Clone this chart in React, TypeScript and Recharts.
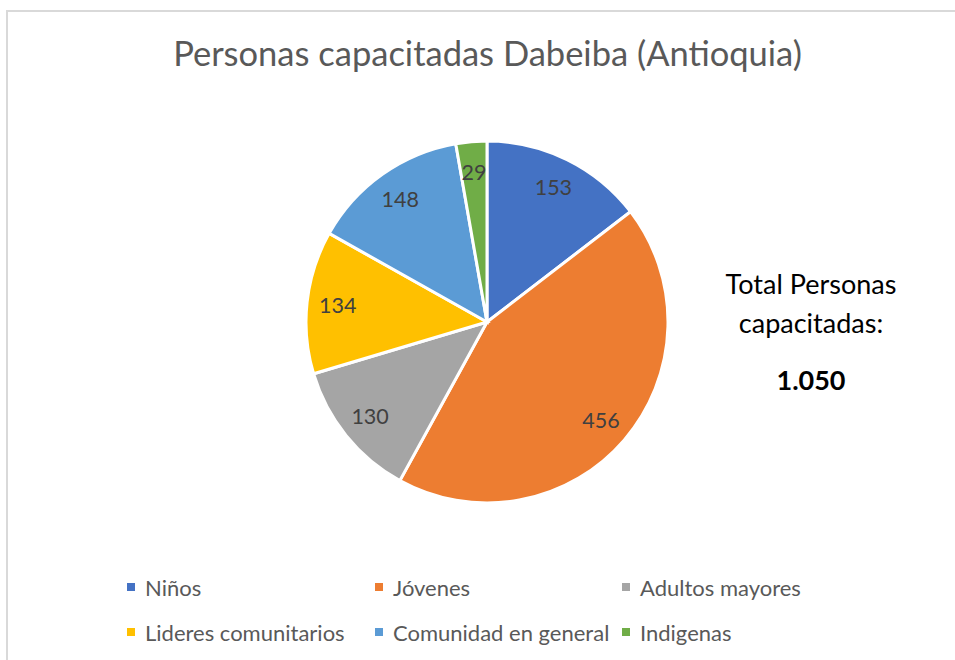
import { PieChart, Pie, Cell, Legend } from 'recharts'

const categories = ['Niños', 'Jóvenes', 'Adultos mayores', 'Lideres comunitarios', 'Comunidad en general', 'Indigenas']
const values = [153, 456, 130, 134, 148, 29]
const colors = ['#4472C4', '#ED7D31', '#A5A5A5', '#FFC000', '#5B9BD5', '#70AD47']
const totalLabel = '1.050'

const data = categories.map((name, i) => ({ name, value: values[i] }))

const FONT = 'Lato, "Open Sans", sans-serif'
const RAD = Math.PI / 180

const renderLabel = (props: any) => {
    const { cx, cy, midAngle, outerRadius, value } = props
    const r = outerRadius * 0.83
    const x = cx + r * Math.cos(-midAngle * RAD)
    const y = cy + r * Math.sin(-midAngle * RAD)
    return (
        <text x={x} y={y} fill="#404040" fontSize={21.5} fontFamily={FONT} textAnchor="middle" dominantBaseline="central">
            {value}
        </text>
    )
}

const LegendGrid = (props: any) => {
    const items = [...(props.payload || [])].sort(
        (a: any, b: any) => categories.indexOf(a.value) - categories.indexOf(b.value)
    )
    const cols = [127, 375, 622]
    const rows = [587, 632]
    return (
        <div style={{ position: 'relative', width: 955, height: 660 }}>
            {items.map((item: any, i: number) => (
                <div key={item.value} style={{
                    position: 'absolute', left: cols[i % 3], top: rows[Math.floor(i / 3)] - 15,
                    height: 30, display: 'flex', alignItems: 'center', whiteSpace: 'nowrap',
                    fontFamily: FONT, fontSize: 22, color: '#595959'
                }}>
                    <span style={{ width: 8, height: 8, background: item.color, display: 'inline-block', marginRight: 10 }} />
                    {item.value}
                </div>
            ))}
        </div>
    )
}

export default function App() {
    return (
        <div style={{ position: 'absolute', left: 0, top: 0, width: 955, height: 660, overflow: 'hidden', background: '#fff' }}>
            <div style={{ position: 'absolute', left: 6, top: 10, width: 1000, height: 700, borderLeft: '2px solid #d9d9d9', borderTop: '2px solid #d9d9d9' }} />
            <div style={{ position: 'absolute', left: 0, top: 32, width: 975, textAlign: 'center', fontFamily: FONT, fontSize: 34.5, color: '#595959' }}>
                Personas capacitadas Dabeiba (Antioquia)
            </div>
            <PieChart width={955} height={660} margin={{ top: 0, right: 0, bottom: 0, left: 0 }} style={{ position: 'absolute', left: 0, top: 0 }}>
                <Pie data={data} dataKey="value" nameKey="name" cx={487} cy={322} outerRadius={181}
                    startAngle={90} endAngle={-270} stroke="#fff" strokeWidth={3}
                    label={renderLabel} labelLine={false} isAnimationActive={false}>
                    {data.map((d, i) => <Cell key={d.name} fill={colors[i]} />)}
                </Pie>
                <Legend content={<LegendGrid />} wrapperStyle={{ position: 'absolute', left: 0, top: 0, width: 955, height: 660 }} />
            </PieChart>
            <div style={{ position: 'absolute', left: 690, top: 264, width: 242, textAlign: 'center', fontFamily: FONT, fontSize: 27, color: '#000', lineHeight: '39px' }}>
                Total Personas<br />capacitadas:
            </div>
            <div style={{ position: 'absolute', left: 690, top: 360, width: 242, textAlign: 'center', fontFamily: FONT, fontSize: 27, fontWeight: 700, color: '#000', lineHeight: '39px' }}>
                {totalLabel}
            </div>
        </div>
    )
}
